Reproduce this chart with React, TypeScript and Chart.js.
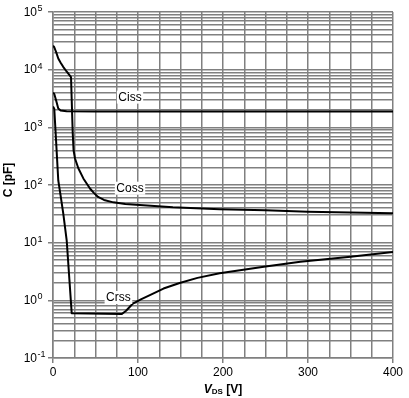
import React, { useEffect, useRef } from 'react';
import { Chart, registerables } from 'chart.js';

Chart.register(...registerables);

// ---- data ----
const xTickValues = [0, 100, 200, 300, 400];
const yDecadeExponents = [-1, 0, 1, 2, 3, 4, 5];

const cissV = [0, 1.5, 4, 6.2, 9, 16, 50, 150, 400];
const cissC = [4000, 3800, 2800, 2130, 1960, 1900, 1885, 1880, 1880];

const cossV = [0, 1.5, 4, 6.2, 9, 12, 16, 21.2, 23.2, 24.2, 25.9, 29.8, 35.7, 43.5, 48, 53, 60, 71, 85, 102, 141, 196, 250, 300, 350, 400];
const cossC = [26000, 24500, 19500, 15600, 13200, 11200, 9300, 7400, 800, 400, 288, 195, 130, 87, 73, 62, 55, 50, 47, 45, 41, 38, 36.5, 34.5, 33.5, 32.5];

const crssV = [0, 1.5, 3, 6.2, 9, 12.1, 16.1, 22, 81, 86, 94, 104, 114, 130, 149, 170, 196, 250, 291, 350, 400];
const crssC = [2300, 2100, 850, 120, 65, 32, 11, 0.6, 0.58, 0.66, 0.88, 1.05, 1.23, 1.6, 2.0, 2.45, 2.94, 3.85, 4.67, 5.7, 6.9];

const curveLabels = ['Ciss', 'Coss', 'Crss'];
const curveLabelV = [90.6, 90.6, 77];
const curveLabelC = [3340, 88, 1.12];

// ---- styles ----
const GRID = '#808080';
const FONT = '"Liberation Sans", Arial, sans-serif';

const toPoints = (xs: number[], ys: number[]) => xs.map((x, i) => ({ x, y: ys[i] }));

const isDecade = (v: number) => Math.abs(Math.log10(v) - Math.round(Math.log10(v))) < 1e-6;

const annotPlugin = {
  id: 'annot',
  afterDatasetsDraw(chart: any) {
    const { ctx, scales } = chart;
    const xs = scales.x;
    const ys = scales.y;
    ctx.save();
    ctx.font = `12px ${FONT}`;
    ctx.textAlign = 'center';
    ctx.textBaseline = 'middle';
    curveLabels.forEach((t, i) => {
      const px = xs.getPixelForValue(curveLabelV[i]);
      const py = ys.getPixelForValue(curveLabelC[i]);
      const w = ctx.measureText(t).width;
      ctx.fillStyle = '#fff';
      ctx.fillRect(px - w / 2 - 1.5, py - 6.5, w + 3, 13);
      ctx.fillStyle = '#000';
      ctx.fillText(t, px, py + 0.5);
    });
    ctx.restore();
  },
  afterDraw(chart: any) {
    const { ctx, scales, chartArea } = chart;
    const ys = scales.y;
    ctx.save();
    ctx.fillStyle = '#000';
    // y tick labels 10^n
    yDecadeExponents.forEach((e) => {
      const py = ys.getPixelForValue(Math.pow(10, e));
      const rx = chartArea.left - 16;
      ctx.font = `12px ${FONT}`;
      ctx.textAlign = 'right';
      ctx.textBaseline = 'middle';
      ctx.fillText('10', rx, py + 0.5);
      ctx.font = `9px ${FONT}`;
      ctx.textAlign = 'left';
      ctx.textBaseline = 'alphabetic';
      ctx.fillText(String(e), rx + 0.5, py - 1);
    });
    // y title
    ctx.save();
    ctx.translate(8.5, (chartArea.top + chartArea.bottom) / 2 - 5);
    ctx.rotate(-Math.PI / 2);
    ctx.font = `bold 12px ${FONT}`;
    ctx.textAlign = 'center';
    ctx.textBaseline = 'middle';
    ctx.fillText('C [pF]', 0, 0);
    ctx.restore();
    // x title V_DS [V]
    const cx = (chartArea.left + chartArea.right) / 2;
    const base = chartArea.bottom + 35;
    ctx.textBaseline = 'alphabetic';
    ctx.textAlign = 'left';
    ctx.font = `italic bold 12px ${FONT}`;
    const wV = ctx.measureText('V').width;
    ctx.font = `bold 8px ${FONT}`;
    const wDS = ctx.measureText('DS').width;
    ctx.font = `bold 12px ${FONT}`;
    const wRest = ctx.measureText(' [V]').width;
    let x0 = cx - (wV + wDS + wRest) / 2;
    ctx.font = `italic bold 12px ${FONT}`;
    ctx.fillText('V', x0, base);
    x0 += wV;
    ctx.font = `bold 8px ${FONT}`;
    ctx.fillText('DS', x0, base + 1);
    x0 += wDS;
    ctx.font = `bold 12px ${FONT}`;
    ctx.fillText(' [V]', x0, base);
    ctx.restore();
  },
};

export default function App() {
  const ref = useRef<HTMLCanvasElement | null>(null);
  useEffect(() => {
    if (!ref.current) return;
    const lineStyle = {
      borderColor: '#000',
      borderWidth: 2,
      pointRadius: 0,
      tension: 0,
      fill: false,
      borderJoinStyle: 'round' as const,
    };
    const chart = new Chart(ref.current, {
      type: 'line',
      data: {
        datasets: [
          { label: 'Ciss', data: toPoints(cissV, cissC), ...lineStyle },
          { label: 'Coss', data: toPoints(cossV, cossC), ...lineStyle },
          { label: 'Crss', data: toPoints(crssV, crssC), ...lineStyle },
        ],
      },
      options: {
        animation: false,
        responsive: false,
        devicePixelRatio: 1,
        layout: { padding: { left: 0, right: 16, top: 12, bottom: 0 } },
        plugins: { legend: { display: false }, tooltip: { enabled: false } },
        scales: {
          x: {
            type: 'linear',
            min: 0,
            max: 400,
            afterFit: (s: any) => { s.height = 40; },
            ticks: {
              stepSize: 25,
              autoSkip: false,
              maxRotation: 0,
              padding: 2,
              color: '#000',
              font: { family: FONT, size: 12 },
              callback: (v: any) => (xTickValues.includes(Number(v)) ? String(v) : ''),
            },
            grid: {
              color: GRID,
              lineWidth: 1.5,
              drawTicks: true,
              tickLength: 5,
              tickColor: (c: any) => (c.tick && xTickValues.includes(c.tick.value) ? GRID : 'rgba(0,0,0,0)'),
              tickWidth: 1.5,
            },
            border: { color: GRID, width: 1.5 },
          },
          y: {
            type: 'logarithmic',
            min: 0.1,
            max: 100000,
            afterFit: (s: any) => { s.width = 53; },
            afterBuildTicks: (s: any) => {
              const t: any[] = [];
              yDecadeExponents.forEach((e) => {
                for (let m = 1; m <= 9; m++) {
                  const v = m * Math.pow(10, e);
                  if (e === 5 && m > 1) break;
                  t.push({ value: Number(v.toPrecision(6)), major: m === 1 });
                }
              });
              s.ticks = t;
            },
            ticks: { display: false, autoSkip: false },
            grid: {
              color: GRID,
              lineWidth: 1.5,
              drawTicks: true,
              tickLength: 5,
              tickColor: (c: any) => (c.tick && isDecade(c.tick.value) ? GRID : 'rgba(0,0,0,0)'),
              tickWidth: 1.5,
            },
            border: { color: GRID, width: 1.5 },
          },
        },
      },
      plugins: [annotPlugin],
    });
    return () => chart.destroy();
  }, []);
  return (
    <div style={{ position: 'absolute', left: 0, top: 0, width: 409, height: 398, background: '#fff' }}>
      <canvas ref={ref} width={409} height={398} style={{ display: 'block' }} />
    </div>
  );
}
